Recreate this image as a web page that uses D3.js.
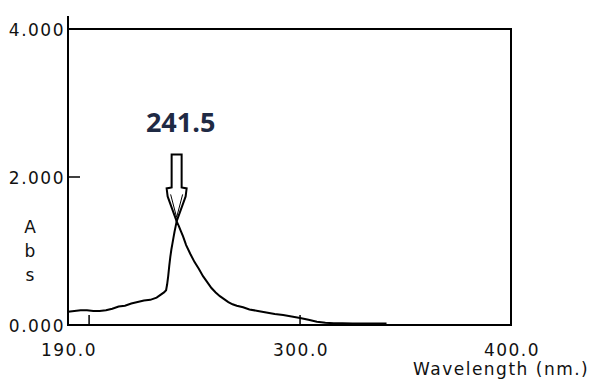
<!DOCTYPE html>
<html>
<head>
<meta charset="utf-8">
<script src="https://cdn.jsdelivr.net/npm/d3@7"></script>
<style>
  body { margin: 0; background: #fff; }
  text { font-family: "DejaVu Sans", sans-serif; fill: #111; }
</style>
</head>
<body>
<div id="root"></div>
<script>
// UV spectrum
var wavelength = [190, 193, 196, 199, 202, 205, 208, 211, 214, 217, 220, 223, 226, 229, 232, 234,
    235.5, 236.5, 237, 237.5, 238, 238.5, 239, 239.5, 240, 240.5, 241, 241.5, 242.5, 243.5, 244.5,
    246, 248, 250, 252, 254, 256, 258, 260, 262, 264, 266, 268, 270, 273, 276, 280, 284, 288, 292,
    296, 300, 304, 308, 312, 316, 320, 325, 330, 335, 341];
var absorbance = [0.18, 0.19, 0.20, 0.20, 0.19, 0.19, 0.20, 0.22, 0.25, 0.26, 0.29, 0.31, 0.33, 0.34, 0.37, 0.41,
    0.44, 0.47, 0.55, 0.66, 0.80, 0.92, 1.02, 1.10, 1.18, 1.26, 1.33, 1.40, 1.34, 1.27, 1.20,
    1.08, 0.96, 0.85, 0.76, 0.66, 0.58, 0.50, 0.44, 0.39, 0.35, 0.31, 0.28, 0.26, 0.24, 0.21, 0.19, 0.17, 0.15, 0.135,
    0.115, 0.095, 0.07, 0.045, 0.03, 0.025, 0.022, 0.02, 0.02, 0.02, 0.02];

var xLabels = [190, 300, 400];
var xTickMarks = [200, 300];
var yLabels = [0, 2, 4];
var yTickMarks = [2];
var peak = 241.5;
var peakAbs = 1.40;

var svg = d3.select("#root")
    .append("svg")
    .attr("width", 591)
    .attr("height", 381);

var x = d3.scaleLinear().domain([190, 400]).range([68, 511]);
var y = d3.scaleLinear().domain([0, 4]).range([325, 29]);

function draw() {
    // frame
    svg.append("rect")
        .attr("x", x(190)).attr("y", y(4))
        .attr("width", x(400) - x(190)).attr("height", y(0) - y(4))
        .attr("fill", "none").attr("stroke", "#000").attr("stroke-width", 2);
    // left axis sticks out above the frame
    svg.append("line")
        .attr("x1", x(190)).attr("x2", x(190))
        .attr("y1", y(4) - 13).attr("y2", y(4))
        .attr("stroke", "#000").attr("stroke-width", 2);

    // inner ticks
    svg.selectAll(".xt").data(xTickMarks).enter().append("line")
        .attr("x1", d => x(d)).attr("x2", d => x(d))
        .attr("y1", y(0)).attr("y2", y(0) - 10)
        .attr("stroke", "#000").attr("stroke-width", 1.5);
    svg.selectAll(".yt").data(yTickMarks).enter().append("line")
        .attr("x1", x(190)).attr("x2", x(190) + 12)
        .attr("y1", d => y(d)).attr("y2", d => y(d))
        .attr("stroke", "#000").attr("stroke-width", 1.5);

    // tick labels
    svg.selectAll(".xl").data(xLabels).enter().append("text")
        .attr("x", d => x(d) + 1)
        .attr("y", 356)
        .attr("text-anchor", "middle")
        .style("font-size", "17px")
        .style("letter-spacing", "1.5px")
        .text(d => d3.format(".1f")(d));
    svg.selectAll(".yl").data(yLabels).enter().append("text")
        .attr("x", x(190) - 3)
        .attr("y", d => y(d) + 7)
        .attr("text-anchor", "end")
        .style("font-size", "17px")
        .style("letter-spacing", "1.5px")
        .text(d => d3.format(".3f")(d));

    // axis titles
    svg.append("text")
        .attr("x", 413).attr("y", 375)
        .style("font-size", "17px")
        .style("letter-spacing", "1.5px")
        .text("Wavelength (nm.)");
    svg.selectAll(".abs").data(["A", "b", "s"]).enter().append("text")
        .attr("x", 30)
        .attr("y", (d, i) => 233 + i * 24)
        .attr("text-anchor", "middle")
        .style("font-size", "17px")
        .text(d => d);

    // spectrum
    var pts = wavelength.map((w, i) => [w, absorbance[i]]);
    var line = d3.line()
        .x(d => x(d[0]))
        .y(d => y(d[1]));
    svg.append("path")
        .datum(pts)
        .attr("d", line)
        .attr("fill", "none")
        .attr("stroke", "#000")
        .attr("stroke-width", 2);

    // peak arrow + label
    var tx = x(peak), ty = y(peakAbs);
    var arrow = [
        [tx - 5, ty - 67], [tx + 5, ty - 67], [tx + 5, ty - 34], [tx + 10, ty - 33],
        [tx + 9, ty - 25], [tx, ty], [tx - 9, ty - 25], [tx - 10, ty - 33], [tx - 5, ty - 34]
    ];
    svg.append("path")
        .attr("d", d3.line()(arrow) + "Z")
        .attr("fill", "#fff")
        .attr("stroke", "#000")
        .attr("stroke-width", 2);
    svg.append("path")
        .attr("d", d3.line()([[tx - 6, ty - 27], [tx, ty - 4], [tx + 6, ty - 27]]))
        .attr("fill", "none")
        .attr("stroke", "#000")
        .attr("stroke-width", 1);

    svg.append("text")
        .attr("x", tx + 4)
        .attr("y", 132)
        .attr("text-anchor", "middle")
        .style("font-family", "'Open Sans', sans-serif")
        .style("font-weight", "bold")
        .style("font-size", "27px")
        .style("fill", "#1f2a44")
        .text(peak);
}

draw();
</script>
</body>
</html>
